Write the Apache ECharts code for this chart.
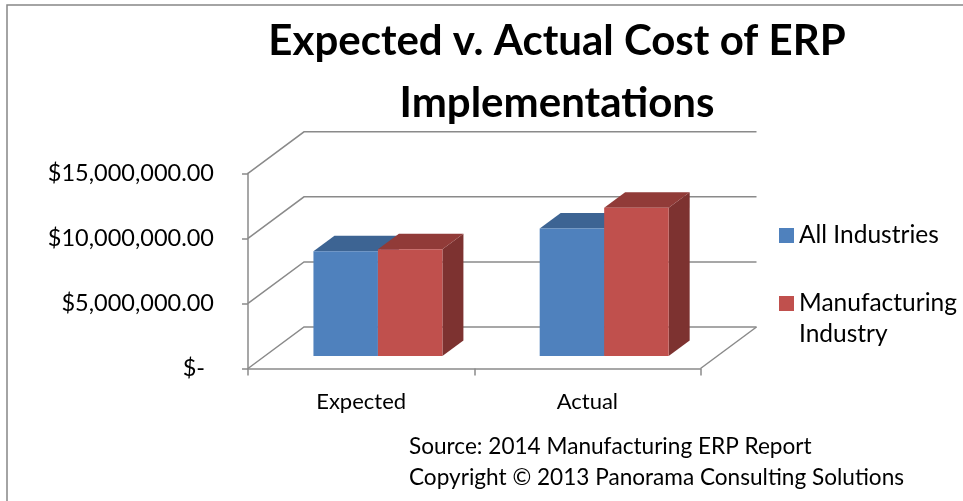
<!DOCTYPE html>
<html>
<head>
<meta charset="utf-8">
<script src="https://cdn.jsdelivr.net/npm/echarts@6/dist/echarts.min.js"></script>
<style>
  html, body { margin: 0; padding: 0; background: #ffffff; }
  #chart { width: 963px; height: 501px; }
</style>
</head>
<body>
<div id="chart"></div>
<script>
// ---- data ----
const categories = ['Expected', 'Actual'];
const seriesNames = ['All Industries', 'Manufacturing Industry'];
const allIndustries = [8050000, 9800000];
const manufacturing = [8200000, 11400000];
const valueTicks = [0, 5000000, 10000000, 15000000];

// ---- oblique box geometry (pixels) and bar placement inside the box ----
const DEPTH_X = 56, DEPTH_Y = -41.5;
const BAR_FRONT = 0.3;   // fraction of the box depth in front of the bars
const BAR_DEPTH = 0.375; // bar depth as a fraction of the box depth
const BAR_WIDTH = 0.285; // bar width as a fraction of a category band

const FONT = 'Lato, "Open Sans", sans-serif';
const GRID_COLOR = '#8a8a8a';

const palette = {
  'All Industries': { front: '#4F81BD', top: '#3D6493', side: '#385D8A' },
  'Manufacturing Industry': { front: '#C0504D', top: '#913B38', side: '#7D3230' }
};

function money(v) {
  if (v === 0) return '$-\u2009 ';
  return '$' + v.toLocaleString('en-US', { minimumFractionDigits: 2, maximumFractionDigits: 2 });
}

// side wall diagonal + back wall gridline for each value tick, plus the floor's right edge
function wallItem(params, api) {
  const cs = params.coordSys;
  const v = api.value(1);
  const y = api.coord([0, v])[1];
  const left = cs.x, right = cs.x + cs.width;
  const children = [{
    type: 'polyline',
    shape: { points: [[left, y], [left + DEPTH_X, y + DEPTH_Y], [right + DEPTH_X, y + DEPTH_Y]] },
    style: { stroke: GRID_COLOR, lineWidth: 1.5, fill: null }
  }];
  if (v === 0) {
    children.push({
      type: 'line',
      shape: { x1: right, y1: y, x2: right + DEPTH_X, y2: y + DEPTH_Y },
      style: { stroke: GRID_COLOR, lineWidth: 1.5 }
    });
  }
  return { type: 'group', children: children };
}

// a box-shaped bar: front face, top face and right side face
function barRenderer(slot, colors) {
  return function (params, api) {
    const idx = api.value(0), val = api.value(1);
    const top = api.coord([idx, val]);
    const base = api.coord([idx, 0]);
    const band = api.size([1, 0])[0];
    const w = band * BAR_WIDTH;
    const fx = BAR_FRONT * DEPTH_X, fy = BAR_FRONT * DEPTH_Y;
    const dx = BAR_DEPTH * DEPTH_X, dy = BAR_DEPTH * DEPTH_Y;
    const x0 = top[0] + fx + (slot === 0 ? -w : 0), x1 = x0 + w;
    const yT = top[1] + fy, yB = base[1] + fy;
    return {
      type: 'group',
      children: [
        { type: 'polygon', shape: { points: [[x1, yT], [x1 + dx, yT + dy], [x1 + dx, yB + dy], [x1, yB]] },
          style: { fill: colors.side } },
        { type: 'polygon', shape: { points: [[x0, yT], [x1, yT], [x1 + dx, yT + dy], [x0 + dx, yT + dy]] },
          style: { fill: colors.top } },
        { type: 'rect', shape: { x: x0, y: yT, width: w, height: yB - yT },
          style: { fill: colors.front } }
      ]
    };
  };
}

const seriesValues = [allIndustries, manufacturing];

const chart = echarts.init(document.getElementById('chart'), null, { renderer: 'canvas' });

const option = {
  animation: false,
  backgroundColor: '#ffffff',
  title: [
    {
      text: 'Expected v. Actual Cost of ERP\nImplementations',
      left: 557, top: 10, padding: 0, textAlign: 'center',
      textStyle: { fontFamily: FONT, fontWeight: 'bold', fontSize: 42, lineHeight: 62, color: '#000' }
    },
    {
      text: 'Source: 2014 Manufacturing ERP Report\nCopyright \u00A9 2013 Panorama Consulting Solutions',
      left: 409, top: 431, padding: 0, textAlign: 'left',
      textStyle: { fontFamily: FONT, fontWeight: 'normal', fontSize: 22.6, lineHeight: 31, color: '#000' }
    }
  ],
  legend: [
    {
      data: [seriesNames[0]], orient: 'vertical', left: 779, top: 220, padding: 0,
      icon: 'rect', itemWidth: 15, itemHeight: 15, selectedMode: false,
      textStyle: { fontFamily: FONT, fontSize: 24.5, lineHeight: 31, color: '#000' }
    },
    {
      // blank first line keeps the swatch level with "Manufacturing"
      data: [seriesNames[1]], orient: 'vertical', left: 779, top: 257, padding: 0,
      icon: 'rect', itemWidth: 15, itemHeight: 15, selectedMode: false,
      formatter: function () { return ' \nManufacturing\nIndustry'; },
      textStyle: { fontFamily: FONT, fontSize: 24.5, lineHeight: 31, color: '#000' }
    }
  ],
  grid: { left: 248, right: 262.5, top: 173.3, bottom: 132.5, containLabel: false },
  xAxis: {
    type: 'category', data: categories, boundaryGap: true,
    axisLine: { show: true, lineStyle: { color: GRID_COLOR, width: 1.5 } },
    axisTick: { show: true, length: 7, lineStyle: { color: GRID_COLOR, width: 1.5 } },
    axisLabel: { margin: 22, fontFamily: FONT, fontSize: 22, color: '#000' },
    splitLine: { show: false }
  },
  yAxis: {
    type: 'value', min: 0, max: 15000000, interval: 5000000,
    axisLine: { show: true, lineStyle: { color: GRID_COLOR, width: 1.5 } },
    axisTick: { show: true, length: 6, lineStyle: { color: GRID_COLOR, width: 1.5 } },
    axisLabel: { margin: 34, fontFamily: FONT, fontSize: 23.5, color: '#000', formatter: money },
    splitLine: { show: false }
  },
  graphic: [
    { type: 'rect', shape: { x: 7, y: 5, width: 1200, height: 1000 },
      style: { fill: null, stroke: '#878787', lineWidth: 1.5 }, z: 0, silent: true }
  ],
  series: [
    {
      type: 'custom', name: 'walls', renderItem: wallItem, clip: false, z: 1, silent: true,
      encode: { x: 0, y: 1 },
      data: valueTicks.map(function (v) { return [0, v]; })
    }
  ].concat(seriesNames.map(function (name, s) {
    return {
      type: 'custom', name: name, clip: false, z: 2 + s,
      renderItem: barRenderer(s, palette[name]),
      itemStyle: { color: palette[name].front },
      encode: { x: 0, y: 1 },
      data: seriesValues[s].map(function (v, i) { return [i, v]; })
    };
  }))
};

chart.setOption(option);
</script>
</body>
</html>
